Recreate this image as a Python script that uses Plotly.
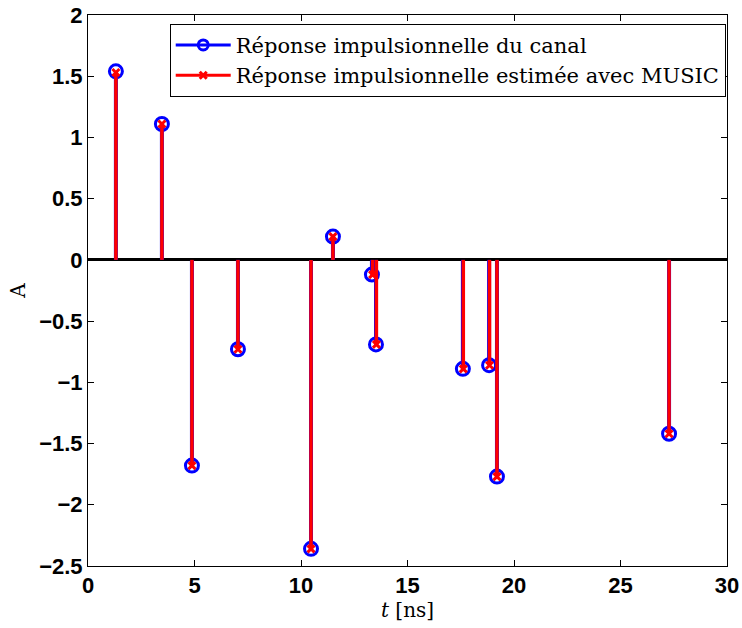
import plotly.graph_objects as go

t_true = [1.31, 3.47, 4.88, 7.04, 10.47, 11.5, 13.33, 13.52, 17.6, 18.83, 19.2, 27.28]
a_true = [1.54, 1.11, -1.68, -0.73, -2.36, 0.19, -0.12, -0.69, -0.89, -0.86, -1.77, -1.42]
t_est = [1.31, 3.47, 4.88, 7.04, 10.47, 11.5, 13.36, 13.54, 17.62, 18.85, 19.2, 27.28]
a_est = [1.53, 1.11, -1.68, -0.73, -2.36, 0.19, -0.12, -0.69, -0.89, -0.86, -1.77, -1.42]

x_ticks = [0, 5, 10, 15, 20, 25, 30]
y_ticks = [2, 1.5, 1, 0.5, 0, -0.5, -1, -1.5, -2, -2.5]
name_true = "Réponse impulsionnelle du canal"
name_est = "Réponse impulsionnelle estimée avec MUSIC"


def stems(xs, ys):
    sx, sy = [], []
    for x, y in zip(xs, ys):
        sx += [x, x, None]
        sy += [0, y, None]
    return sx, sy


fig = go.Figure()
bx, by = stems(t_true, a_true)
fig.add_trace(go.Scatter(x=bx, y=by, mode="lines", line=dict(color="#0000ff", width=4),
                         showlegend=False, hoverinfo="skip"))
fig.add_trace(go.Scatter(x=t_true, y=a_true, mode="markers", showlegend=False,
                         marker=dict(symbol="circle-open", size=13, color="#0000ff",
                                     line=dict(width=3, color="#0000ff"))))
rx, ry = stems(t_est, a_est)
fig.add_trace(go.Scatter(x=rx, y=ry, mode="lines", line=dict(color="#ff0000", width=3.5),
                         showlegend=False, hoverinfo="skip"))
fig.add_trace(go.Scatter(x=t_est, y=a_est, mode="markers", showlegend=False,
                         marker=dict(symbol="x-thin-open", size=7, color="#ff0000",
                                     line=dict(width=3, color="#ff0000"))))
# legend entries
fig.add_trace(go.Scatter(x=[None], y=[None], mode="lines+markers", name=name_true,
                         line=dict(color="#0000ff", width=3),
                         marker=dict(symbol="circle-open", size=10, color="#0000ff",
                                     line=dict(width=3, color="#0000ff"))))
fig.add_trace(go.Scatter(x=[None], y=[None], mode="lines+markers", name=name_est,
                         line=dict(color="#ff0000", width=3),
                         marker=dict(symbol="x-thin-open", size=7, color="#ff0000",
                                     line=dict(width=3, color="#ff0000"))))

axis_common = dict(showgrid=False, showline=True, linecolor="black", linewidth=1,
                   mirror="ticks", ticks="inside", ticklen=6, tickcolor="black",
                   automargin=False, ticklabeloverflow="allow",
                   tickfont=dict(family="Liberation Sans", size=22, color="black", weight="bold"))
fig.update_xaxes(range=[0, 30], tickvals=x_ticks, zeroline=False,
                 title=dict(text="<i>t</i> [ns]", font=dict(family="DejaVu Serif", size=20, color="black"),
                            standoff=4),
                 **axis_common)
fig.update_yaxes(range=[-2.5, 2], tickvals=y_ticks,
                 ticktext=[str(v).replace("-", "\u2212") for v in y_ticks],
                 zeroline=True, zerolinecolor="black", zerolinewidth=3,
                 title=dict(text="A", font=dict(family="DejaVu Serif", size=20, color="black"),
                            standoff=8),
                 **axis_common)
fig.update_layout(
    width=742, height=628,
    margin=dict(l=88, r=15, t=15, b=62),
    paper_bgcolor="white", plot_bgcolor="white",
    legend=dict(x=0.998, y=0.984, xanchor="right", yanchor="top",
                bordercolor="black", borderwidth=1, bgcolor="white",
                font=dict(family="DejaVu Serif", size=21, color="black"),
                tracegroupgap=0, itemwidth=55),
)
fig.write_html("out.html", config={"displayModeBar": False},
               post_script="document.body.style.margin='0';document.body.style.overflow='hidden';")
